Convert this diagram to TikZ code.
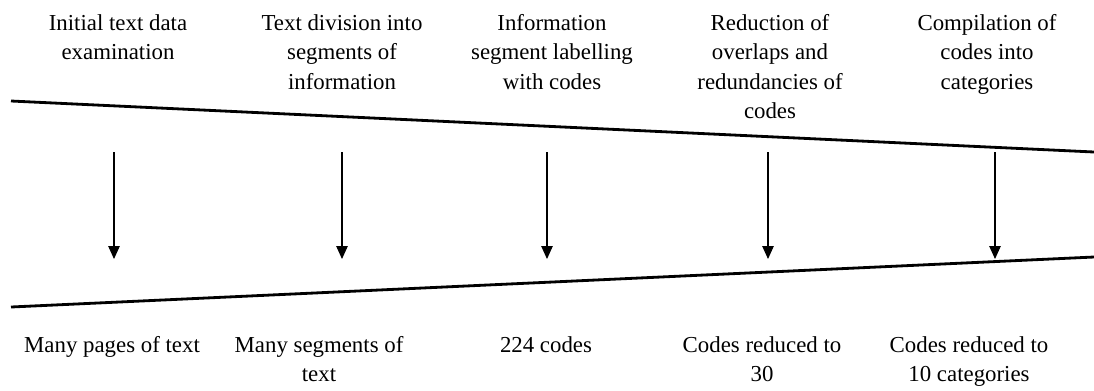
\documentclass[tikz,border=0pt]{standalone}
\usepackage{fontspec}
\setmainfont{Liberation Serif}
\usetikzlibrary{arrows.meta, positioning}

\begin{document}
\begin{tikzpicture}[
        x=0.02cm, y=-0.02cm,
        stage/.style={anchor=north, inner sep=0pt, align=center, font=\fontsize{13}{16.8}\selectfont},
        result/.style={anchor=north, inner sep=0pt, align=center, font=\fontsize{13}{16.8}\selectfont},
        funnel/.style={line width=1.6pt},
        arr/.style={-{Triangle[length=2.6mm, width=2.3mm]}, line width=0.6pt}
      ]
        \useasboundingbox (0,0) rectangle (1094,390);
        % funnel edges
        \coordinate (tl) at (11,101);
        \coordinate (tr) at (1094,152);
        \coordinate (bl) at (11,307);
        \coordinate (br) at (1094,257);
        \draw[funnel] (tl) -- (tr);
        \draw[funnel] (bl) -- (br);
        % stages
        \node[stage] (exam) at (118,14) {Initial text data\\examination};
        \node[stage] (div) at (342,14) {Text division into\\segments of\\information};
        \node[stage] (lab) at (552,14) {Information\\segment labelling\\with codes};
        \node[stage] (red) at (770,14) {Reduction of\\overlaps and\\redundancies of\\codes};
        \node[stage] (comp) at (987,14) {Compilation of\\codes into\\categories};
        % outcomes
        \node[result] (pages) at (112,336) {Many pages of text};
        \node[result] (segs) at (319,336) {Many segments of\\text};
        \node[result] (codes) at (546,336) {224 codes};
        \node[result] (thirty) at (762,336) {Codes reduced to\\30};
        \node[result] (ten) at (969,336) {Codes reduced to\\10 categories};
        % arrow ends
        \coordinate (a1) at (114,152);
        \coordinate (z1) at (114,259);
        \coordinate (a2) at (342,152);
        \coordinate (z2) at (342,259);
        \coordinate (a3) at (547,152);
        \coordinate (z3) at (547,259);
        \coordinate (a4) at (768,152);
        \coordinate (z4) at (768,259);
        \coordinate (a5) at (995,152);
        \coordinate (z5) at (995,259);
        \draw[arr] (a1) -- (z1);
        \draw[arr] (a2) -- (z2);
        \draw[arr] (a3) -- (z3);
        \draw[arr] (a4) -- (z4);
        \draw[arr] (a5) -- (z5);
      \end{tikzpicture}
\end{document}
